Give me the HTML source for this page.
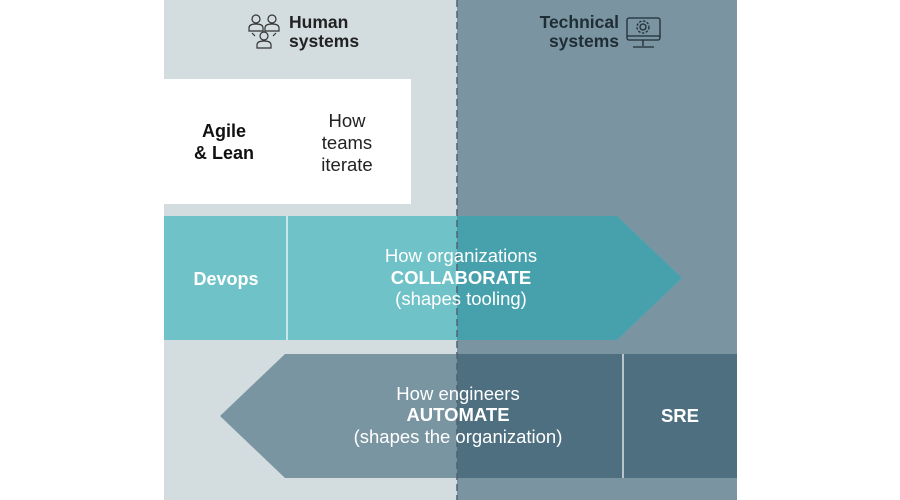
<!DOCTYPE html>
<html><head><meta charset="utf-8"><style>
html,body{margin:0;padding:0;background:#fff;width:900px;height:500px;overflow:hidden}
svg{display:block}
text{font-family:"Liberation Sans",sans-serif}
</style></head><body>
<svg width="900" height="500" viewBox="0 0 900 500">
<rect x="0" y="0" width="900" height="500" fill="#fff"/>
<rect x="164" y="0" width="293" height="500" fill="#d3dcdf"/>
<rect x="457" y="0" width="280" height="500" fill="#7a95a1"/>
<rect x="164" y="79" width="247" height="125" fill="#fff"/>
<polygon points="164,216 617,216 682,278 617,340 164,340" fill="#6fc3c8"/>
<clipPath id="r"><rect x="457" y="0" width="300" height="500"/></clipPath>
<polygon points="164,216 617,216 682,278 617,340 164,340" fill="#46a1ac" clip-path="url(#r)"/>
<line x1="287" y1="216" x2="287" y2="340" stroke="#fff" stroke-width="1.5" opacity="0.8"/>
<polygon points="285,354 737,354 737,478 285,478 220,416" fill="#7995a1"/>
<polygon points="285,354 737,354 737,478 285,478 220,416" fill="#4e6f80" clip-path="url(#r)"/>
<line x1="623" y1="354" x2="623" y2="478" stroke="#fff" stroke-width="1.5" opacity="0.8"/>
<line x1="457" y1="0" x2="457" y2="500" stroke="#4e6470" stroke-width="1.5" stroke-dasharray="7,4"/>
<g fill="none" stroke="#333" stroke-width="1.2">
<circle cx="256" cy="19" r="4"/><path d="M249,31 v-3 q0,-4 7,-4 q7,0 7,4 v3 z"/>
<circle cx="272" cy="19" r="4"/><path d="M265,31 v-3 q0,-4 7,-4 q7,0 7,4 v3 z"/>
<circle cx="264" cy="36" r="4"/><path d="M257,48 v-3 q0,-4 7,-4 q7,0 7,4 v3 z"/>
<path d="M252,33 l3,3 M276,33 l-3,3"/>
</g>
<text x="289" y="28" font-size="17.5" font-weight="bold" fill="#222">Human</text>
<text x="289" y="47" font-size="17.5" font-weight="bold" fill="#222">systems</text>
<text x="619" y="28" font-size="17.5" font-weight="bold" fill="#1f2d35" text-anchor="end">Technical</text>
<text x="619" y="47" font-size="17.5" font-weight="bold" fill="#1f2d35" text-anchor="end">systems</text>
<g fill="none" stroke="#1f2d35" stroke-width="1.3">
<rect x="627" y="18" width="33" height="22" rx="2"/>
<line x1="627" y1="36" x2="660" y2="36"/>
<line x1="643" y1="40" x2="643" y2="46"/><line x1="633" y1="47" x2="654" y2="47"/>
<circle cx="643" cy="27" r="3"/><circle cx="643" cy="27" r="6" stroke-dasharray="2.5,1.5"/>
</g>
<text x="224" y="137" font-size="18" font-weight="bold" fill="#111" text-anchor="middle">Agile</text>
<text x="224" y="159" font-size="18" font-weight="bold" fill="#111" text-anchor="middle">&amp; Lean</text>
<g font-size="18.5" fill="#222" text-anchor="middle">
<text x="347" y="127">How</text><text x="347" y="149">teams</text><text x="347" y="171">iterate</text>
</g>
<text x="226" y="285" font-size="18" font-weight="bold" fill="#fff" text-anchor="middle">Devops</text>
<g fill="#fff" font-size="18.5" text-anchor="middle">
<text x="461" y="262">How organizations</text>
<text x="461" y="284" font-weight="bold">COLLABORATE</text>
<text x="461" y="305">(shapes tooling)</text>
<text x="458" y="400">How engineers</text>
<text x="458" y="421" font-weight="bold">AUTOMATE</text>
<text x="458" y="443">(shapes the organization)</text>
<text x="680" y="422" font-weight="bold">SRE</text>
</g>
</svg>
</body></html>
